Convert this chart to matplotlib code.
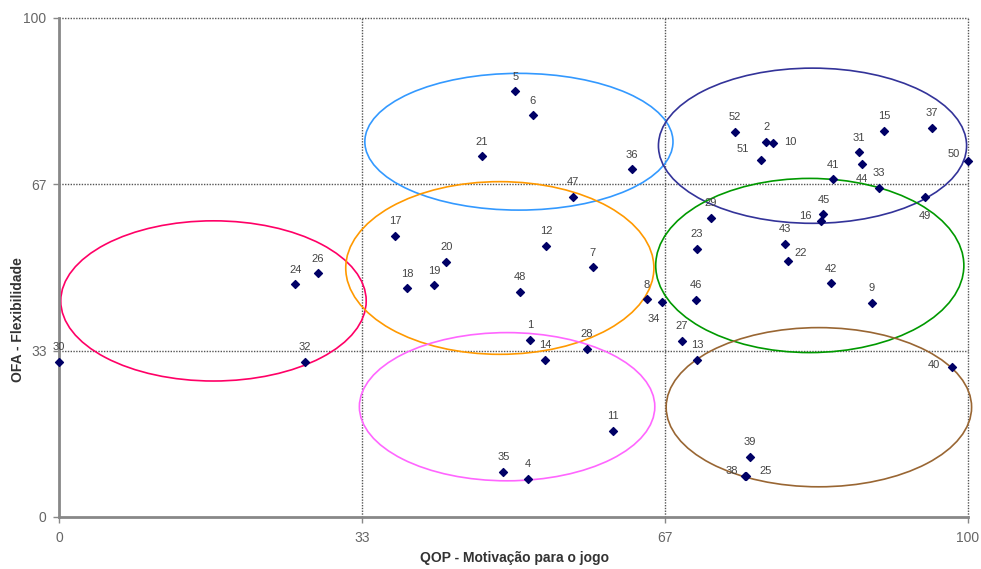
import matplotlib
matplotlib.use("Agg")
import matplotlib.pyplot as plt
from matplotlib.patches import Ellipse

plt.rcParams["font.family"] = ["Liberation Sans", "DejaVu Sans"]

# Player ids with their scores: motivation (QOP) and flexibility (OFA)
ids = [1, 2, 4, 5, 6, 7, 8, 9, 10, 11, 12, 13, 14, 15, 16, 17, 18, 19, 20, 21,
       22, 23, 24, 25, 26, 27, 28, 29, 30, 31, 32, 33, 34, 35, 36, 37, 38, 39,
       40, 41, 42, 43, 44, 45, 46, 47, 48, 49, 50, 51, 52]
qop = [51.8, 77.8, 51.6, 50.2, 52.1, 58.7, 64.7, 89.4, 78.5, 60.9, 53.6, 70.2,
       53.5, 90.8, 83.8, 37.0, 38.3, 41.3, 42.6, 46.5, 80.2, 70.2, 26.0, 75.6,
       28.5, 68.5, 58.1, 71.7, 0.0, 88.0, 27.1, 90.2, 66.3, 48.9, 63.0, 96.0,
       75.5, 76.0, 98.2, 85.1, 84.9, 79.9, 88.3, 84.1, 70.1, 56.5, 50.7, 95.3,
       100.0, 77.2, 74.4]
ofa = [35.5, 75.2, 7.6, 85.3, 80.5, 50.0, 43.6, 42.9, 74.9, 17.3, 54.4, 31.5,
       31.5, 77.4, 59.3, 56.4, 45.8, 46.4, 51.1, 72.3, 51.2, 53.8, 46.6, 8.2,
       48.8, 35.3, 33.7, 60.0, 31.1, 73.1, 31.1, 66.0, 43.0, 9.1, 69.7, 78.0,
       8.2, 12.1, 30.1, 67.7, 46.8, 54.8, 70.8, 60.7, 43.5, 64.2, 45.1, 64.2,
       71.3, 71.6, 77.2]

# Group ellipses: centre (qop, ofa), width, height, colour
groups_cx = [17.0, 50.6, 48.5, 49.3, 82.9, 82.6, 83.6]
groups_cy = [43.3, 75.2, 49.9, 22.1, 74.4, 50.4, 22.0]
groups_w = [33.6, 33.9, 33.9, 32.5, 33.9, 33.9, 33.6]
groups_h = [32.1, 27.4, 34.6, 29.7, 31.1, 34.9, 31.9]
groups_color = ["#FF0066", "#3399FF", "#FF9900", "#FF66FF", "#333399",
                "#009900", "#996633"]

ticks = [0, 100 / 3, 200 / 3, 100]
tick_labels = ["0", "33", "67", "100"]

# Label offsets in points (default: centred above the marker)
default_off = (0, 10.5)
label_off = {
    34: (-6, -12), 10: (13, 1), 51: (-13, 8), 44: (0, -11), 50: (-10, 5),
    49: (0, -14), 16: (-11, 4), 22: (9, 6), 40: (-13, 1), 38: (-10, 4),
    25: (14, 4),
}

fig = plt.figure(figsize=(9.81, 5.69), dpi=100)
ax = fig.add_axes([0.0601, 0.0914, 0.9266, 0.877])
ax.set_xlim(0, 100)
ax.set_ylim(0, 100)

for t in ticks[1:]:
    ax.axvline(t, color="#555555", lw=1.0, ls=(0, (1, 1)), zorder=1, clip_on=False)
    ax.axhline(t, color="#555555", lw=1.0, ls=(0, (1, 1)), zorder=1, clip_on=False)

for cx, cy, w, h, c in zip(groups_cx, groups_cy, groups_w, groups_h, groups_color):
    ax.add_patch(Ellipse((cx, cy), w, h, fill=False, edgecolor=c, lw=1.2,
                         zorder=2, clip_on=False))

ax.scatter(qop, ofa, marker="D", s=16, color="#000066", zorder=4, clip_on=False)

for i, x, y in zip(ids, qop, ofa):
    dx, dy = label_off.get(i, default_off)
    ax.annotate(str(i), (x, y), xytext=(dx, dy), textcoords="offset points",
                ha="center", va="center", fontsize=8, color="#444444", zorder=5)

for side in ("top", "right"):
    ax.spines[side].set_visible(False)
for side in ("left", "bottom"):
    ax.spines[side].set_color("#888888")
    ax.spines[side].set_linewidth(2)

ax.set_xticks(ticks)
ax.set_xticklabels(tick_labels)
ax.set_yticks(ticks)
ax.set_yticklabels(tick_labels)
ax.tick_params(axis="both", colors="#888888", labelcolor="#666666",
               labelsize=10, length=4, width=1)
ax.tick_params(axis="x", pad=6)
ax.tick_params(axis="y", pad=5)

fig.text(514 / 981, 1 - 558 / 569, "QOP - Motivação para o jogo", fontsize=10,
         fontweight="bold", color="#333333", ha="center", va="center")
fig.text(18 / 981, 1 - 320 / 569, "OFA - Flexibilidade", fontsize=10,
         fontweight="bold", color="#333333", ha="center", va="center",
         rotation=90)

fig.savefig("out.png", dpi=100)
